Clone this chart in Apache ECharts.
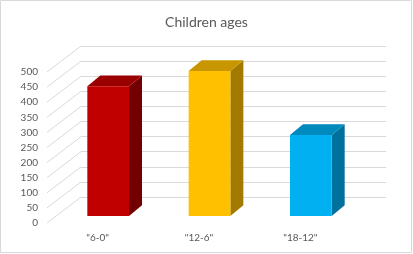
<!DOCTYPE html>
<html><head><meta charset="utf-8">
<script src="https://cdn.jsdelivr.net/npm/echarts@6/dist/echarts.min.js"></script>
<style>html,body{margin:0;padding:0;background:#fff}#c{width:413px;height:254px}</style>
</head><body><div id="c"></div>
<script>
var categories = ['"6-0"', '"12-6"', '"18-12"'];
var values = [430, 480, 268];
var yTicks = [0, 50, 100, 150, 200, 250, 300, 350, 400, 450, 500];
var frontColors = ['#C00000', '#FFC000', '#00B0F0'];
var topColors = ['#9A0000', '#C89600', '#0089BC'];
var sideColors = ['#720000', '#A37A00', '#00719C'];

var DX = 34, DY = -26;       // wall depth
var FX = 10.5, FY = -7;      // front face offset
var BW = 41.7, BDX = 13, BDY = -10.7; // bar width & depth

var chart = echarts.init(document.getElementById('c'), null, {renderer: 'canvas'});
var font = 'Lato, "Open Sans", sans-serif';
var option = {
  animation: false,
  title: {text: 'Children ages', left: 'center', top: 10,
    textStyle: {fontFamily: font, fontSize: 14, fontWeight: 'normal', color: '#595959'}},
  graphic: [{type: 'rect', shape: {x: 0.5, y: 0.5, width: 411, height: 252},
    style: {fill: 'none', stroke: '#d9d9d9', lineWidth: 1}, z: -10}],
  grid: [
    {left: 47, right: 62, top: 72, bottom: 31},
    {left: 81, right: 27, top: 46, bottom: 57}
  ],
  xAxis: [
    {gridIndex: 0, type: 'category', data: categories, boundaryGap: true,
      axisLine: {show: false}, axisTick: {show: false},
      axisLabel: {margin: 10, fontFamily: font, fontSize: 10, color: '#595959'}},
    {gridIndex: 1, type: 'category', data: categories, show: false}
  ],
  yAxis: [
    {gridIndex: 0, type: 'value', min: 0, max: 500, interval: 50,
      axisLine: {show: false}, axisTick: {show: false}, splitLine: {show: false},
      axisLabel: {margin: 9, fontFamily: font, fontSize: 10, color: '#595959'}},
    {gridIndex: 1, type: 'value', min: 0, max: 500, interval: 50,
      axisLine: {show: false}, axisTick: {show: false}, axisLabel: {show: false},
      splitLine: {show: true, lineStyle: {color: '#d9d9d9', width: 1}}}
  ],
  series: [
    {type: 'custom', xAxisIndex: 0, yAxisIndex: 0, z: 1,
      data: yTicks.map(function (t) { return [0, t]; }),
      renderItem: function (params, api) {
        var y = api.coord([0, api.value(1)])[1];
        var x = params.coordSys.x;
        return {type: 'line', shape: {x1: x, y1: y, x2: x + DX, y2: y + DY},
          style: {stroke: '#d9d9d9', lineWidth: 1}};
      }},
    {type: 'custom', xAxisIndex: 0, yAxisIndex: 0, z: 5,
      data: values.map(function (v, i) { return [i, v]; }),
      renderItem: function (params, api) {
        var i = params.dataIndex;
        var top = api.coord([api.value(0), api.value(1)]);
        var bot = api.coord([api.value(0), 0]);
        var xl = top[0] - BW / 2 + FX, xr = top[0] + BW / 2 + FX;
        var yt = top[1] + FY, yb = bot[1] + FY;
        return {type: 'group', children: [
          {type: 'polygon', shape: {points: [[xr, yt], [xr + BDX, yt + BDY], [xr + BDX, yb + BDY], [xr, yb]]},
            style: {fill: sideColors[i]}},
          {type: 'polygon', shape: {points: [[xl, yt], [xl + BDX, yt + BDY], [xr + BDX, yt + BDY], [xr, yt]]},
            style: {fill: topColors[i]}},
          {type: 'rect', shape: {x: xl, y: yt, width: xr - xl, height: yb - yt},
            style: {fill: frontColors[i]}}
        ]};
      }}
  ]
};
chart.setOption(option);
</script></body></html>
